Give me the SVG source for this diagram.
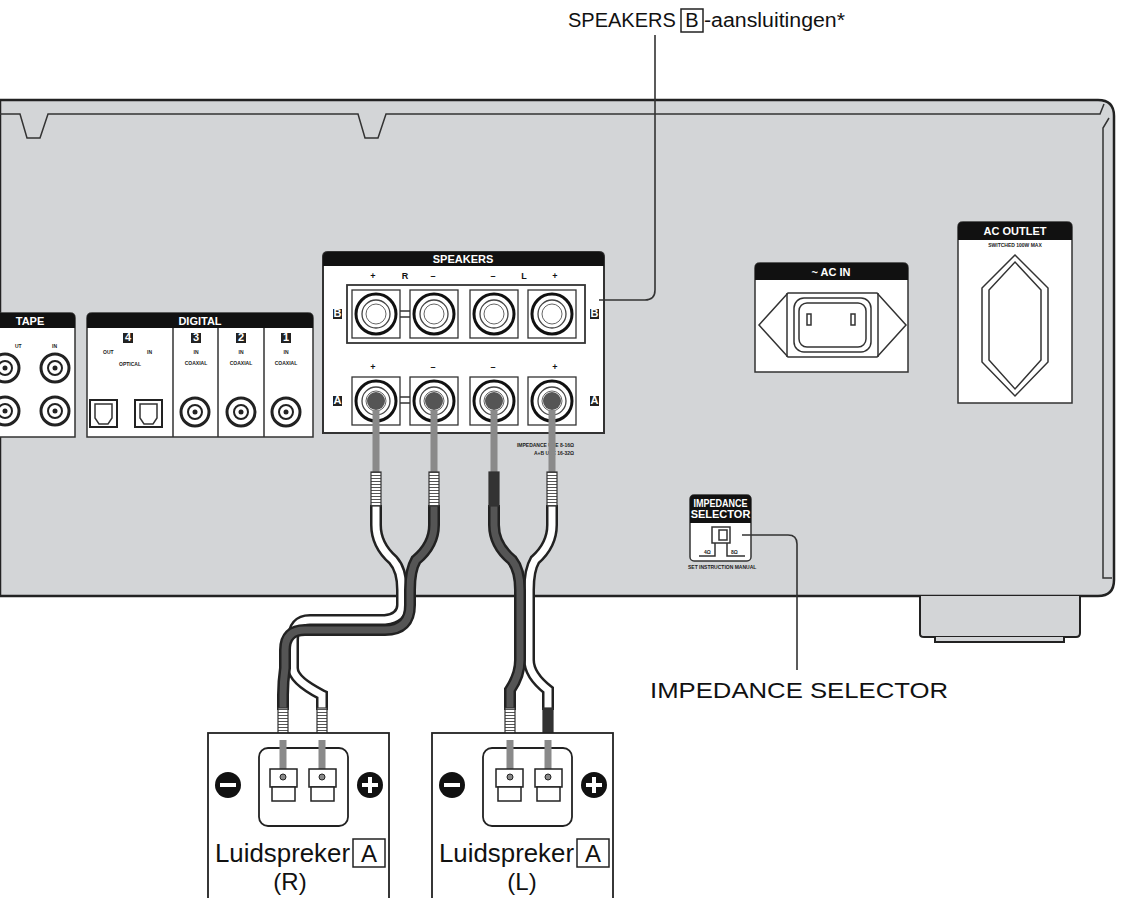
<svg xmlns="http://www.w3.org/2000/svg" width="1124" height="898" viewBox="0 0 1124 898">
<defs>
<style>
.t{font-family:"Liberation Sans",Arial,sans-serif;fill:#111}
.s{font-family:"Liberation Sans",Arial,sans-serif;font-weight:bold;fill:#fff;font-size:11px}
.k{font-family:"Liberation Sans",Arial,sans-serif;font-weight:bold;fill:#222;font-size:5px}
.pn{fill:#fff;stroke:#333;stroke-width:1.5}
.ln{fill:none;stroke:#333;stroke-width:1.5}
.lead{fill:none;stroke:#333;stroke-width:1.6}
</style>
<g id="post">
<rect x="-24" y="-24" width="48" height="48" fill="#fff" stroke="#333" stroke-width="1.3"/>
<circle r="20" fill="#fff" stroke="#111" stroke-width="3"/>
<circle r="14" fill="none" stroke="#444" stroke-width="1.3"/>
<circle r="10" fill="none" stroke="#666" stroke-width="1"/>
</g>
<g id="rca"><circle r="14" fill="#fff" stroke="#222" stroke-width="3"/><circle r="7" fill="none" stroke="#222" stroke-width="2"/><circle r="2.5" fill="#222"/></g>
<pattern id="hatch" width="4" height="3" patternUnits="userSpaceOnUse"><rect width="4" height="3" fill="#fff"/><line x1="0" y1="1.5" x2="4" y2="1.5" stroke="#555" stroke-width="1"/></pattern>
</defs>
<rect width="1124" height="898" fill="#fff"/>

<g id="chassis">
<path d="M0 100 H1098 Q1114 100 1114 116 V580 Q1114 596 1098 596 H0 Z" fill="#d3d5d7" stroke="#222" stroke-width="2.5"/>
<path d="M0 114 H20 L27 138 H40 L48 114 H358 L365 138 H378 L386 114 H1100 L1104 104" class="ln" stroke-width="1.2"/>
<path d="M1109 118 L1103 128 V578 H1112" class="ln" stroke-width="1.2"/>
<path d="M920 596 V634 Q920 637 924 637 H1076 Q1080 637 1080 633 V596" fill="#d3d5d7" stroke="#222" stroke-width="2"/>
<path d="M935 637 V642 H1064 V637" fill="#d3d5d7" stroke="#222" stroke-width="2"/>
</g>

<g id="tape">
<path d="M0 313 H70 Q75 313 75 318 V437 H0" class="pn"/>
<path d="M0 313 H70 Q75 313 75 318 V328 H0 Z" fill="#111"/>
<text x="30" y="325" class="s" text-anchor="middle">TAPE</text>
<text x="15" y="348" class="k">UT</text><text x="52" y="348" class="k">IN</text>
<use href="#rca" x="5" y="368"/><use href="#rca" x="55" y="368"/>
<use href="#rca" x="5" y="411"/><use href="#rca" x="55" y="411"/>
</g>

<g id="digital">
<path d="M87 437 V318 Q87 313 92 313 H308 Q313 313 313 318 V437 Z" class="pn"/>
<path d="M87 328 V318 Q87 313 92 313 H308 Q313 313 313 318 V328 Z" fill="#111"/>
<text x="200" y="325" class="s" text-anchor="middle">DIGITAL</text>
<path d="M173 328 V437 M218 328 V437 M264 328 V437" class="ln"/>
<rect x="123" y="333" width="10" height="10" fill="#222"/><text x="128" y="341" class="s" font-size="8" text-anchor="middle">4</text>
<rect x="191" y="333" width="10" height="10" fill="#222"/><text x="196" y="341" class="s" font-size="8" text-anchor="middle">3</text>
<rect x="236" y="333" width="10" height="10" fill="#222"/><text x="241" y="341" class="s" font-size="8" text-anchor="middle">2</text>
<rect x="281" y="333" width="10" height="10" fill="#222"/><text x="286" y="341" class="s" font-size="8" text-anchor="middle">1</text>
<text x="103" y="354" class="k">OUT</text><text x="147" y="354" class="k">IN</text>
<text x="130" y="366" class="k" text-anchor="middle">OPTICAL</text>
<text x="196" y="354" class="k" text-anchor="middle">IN</text><text x="196" y="365" class="k" text-anchor="middle">COAXIAL</text>
<text x="241" y="354" class="k" text-anchor="middle">IN</text><text x="241" y="365" class="k" text-anchor="middle">COAXIAL</text>
<text x="286" y="354" class="k" text-anchor="middle">IN</text><text x="286" y="365" class="k" text-anchor="middle">COAXIAL</text>
<rect x="90" y="400" width="27" height="27" fill="#fff" stroke="#222" stroke-width="2"/>
<path d="M95 404 H112 V418 L108 424 H99 L95 418 Z" class="ln"/>
<rect x="135" y="400" width="27" height="27" fill="#fff" stroke="#222" stroke-width="2"/>
<path d="M140 404 H157 V418 L153 424 H144 L140 418 Z" class="ln"/>
<use href="#rca" x="195" y="412"/><use href="#rca" x="241" y="412"/><use href="#rca" x="286" y="412"/>
</g>

<g id="speakers-panel">
<path d="M323 433 V257 Q323 252 328 252 H599 Q604 252 604 257 V433 Z" fill="#fff" stroke="#333" stroke-width="2"/>
<path d="M323 266 V257 Q323 252 328 252 H599 Q604 252 604 257 V266 Z" fill="#111"/>
<text x="463" y="263" class="s" text-anchor="middle">SPEAKERS</text>
<g class="t" font-size="9" font-weight="bold" text-anchor="middle">
<text x="373" y="279">+</text><text x="405" y="279">R</text><text x="433" y="279">–</text>
<text x="493" y="279">–</text><text x="524" y="279">L</text><text x="555" y="279">+</text>
<text x="373" y="370">+</text><text x="433" y="370">–</text><text x="493" y="370">–</text><text x="555" y="370">+</text>
</g>
<rect x="347" y="285" width="238" height="58" fill="none" stroke="#333" stroke-width="1.8"/>
<path d="M396 311 H412 M396 317 H412 M574 311 H530 M574 317 H530" class="ln" stroke-width="1"/>
<use href="#post" x="376" y="314"/><use href="#post" x="434" y="314"/><use href="#post" x="494" y="314"/><use href="#post" x="552" y="314"/>
<path d="M398 397 H412 M398 403 H412 M530 397 H574 M530 403 H574" class="ln" stroke-width="1"/>
<use href="#post" x="376" y="401"/><use href="#post" x="434" y="401"/><use href="#post" x="494" y="401"/><use href="#post" x="552" y="401"/>
<g fill="#555"><circle cx="376" cy="401" r="9"/><circle cx="434" cy="401" r="9"/><circle cx="494" cy="401" r="9"/><circle cx="552" cy="401" r="9"/></g>
<rect x="333" y="309" width="9" height="10" fill="#222"/><text x="337.5" y="317" class="s" font-size="7" text-anchor="middle">B</text>
<rect x="590" y="309" width="9" height="10" fill="#222"/><text x="594.5" y="317" class="s" font-size="7" text-anchor="middle">B</text>
<rect x="333" y="396" width="9" height="10" fill="#222"/><text x="337.5" y="404" class="s" font-size="7" text-anchor="middle">A</text>
<rect x="590" y="396" width="9" height="10" fill="#222"/><text x="594.5" y="404" class="s" font-size="7" text-anchor="middle">A</text>
</g>
<text x="574" y="447" class="k" text-anchor="end">IMPEDANCE USE 8-16Ω</text>
<text x="574" y="455" class="k" text-anchor="end">A+B USE 16-32Ω</text>

<g id="ac-in">
<path d="M755 372 V268 Q755 263 760 263 H903 Q908 263 908 268 V372 Z" class="pn"/>
<path d="M755 280 V268 Q755 263 760 263 H903 Q908 263 908 268 V280 Z" fill="#111"/>
<text x="831" y="276" class="s" text-anchor="middle">~ AC IN</text>
<path d="M788 293 H877 L906 325 L877 357 H788 L759 325 Z" class="ln"/>
<path d="M787 293 V357 M878 293 V357" class="ln"/>
<rect x="794" y="298" width="77" height="54" rx="10" class="ln" stroke-width="2"/>
<rect x="799" y="303" width="67" height="44" rx="8" class="ln"/>
<rect x="807" y="314" width="4" height="11" class="ln"/><rect x="851" y="314" width="4" height="11" class="ln"/>
</g>

<g id="ac-outlet">
<path d="M958 403 V227 Q958 222 963 222 H1067 Q1072 222 1072 227 V403 Z" class="pn"/>
<path d="M958 240 V227 Q958 222 963 222 H1067 Q1072 222 1072 227 V240 Z" fill="#111"/>
<text x="1015" y="235" class="s" text-anchor="middle">AC OUTLET</text>
<text x="1015" y="247" class="k" text-anchor="middle">SWITCHED 100W MAX</text>
<path d="M1015 255 L1048 288 V362 L1015 396 L982 362 V288 Z" class="ln" stroke-width="2"/>
<path d="M1015 262 L1041 290 V360 L1015 389 L989 360 V290 Z" class="ln" stroke-width="1.5"/>
</g>

<g id="impedance-selector">
<rect x="690" y="495" width="61" height="66" rx="4" class="pn"/>
<path d="M690 523 V499 Q690 495 694 495 H747 Q751 495 751 499 V523 Z" fill="#111"/>
<text x="720.5" y="507" class="s" font-size="7" text-anchor="middle" textLength="54" lengthAdjust="spacingAndGlyphs">IMPEDANCE</text>
<text x="720.5" y="518" class="s" font-size="7" text-anchor="middle">SELECTOR</text>
<rect x="712" y="527" width="18" height="16" class="ln"/><rect x="719" y="530" width="8" height="10" class="ln" stroke-width="1"/>
<path d="M699 556 H715 V543 M727 543 V556 H745" class="ln" stroke-width="1"/>
<text x="704" y="554" class="k" font-size="6">4Ω</text><text x="731" y="554" class="k" font-size="6">8Ω</text>
<text x="688" y="569" class="k" font-size="4.5">SET INSTRUCTION MANUAL</text>
</g>

<g id="connectors">
<path d="M655 35 V290 Q655 300 645 300 H599" class="lead"/>
<path d="M742 535 H788 Q797 535 797 544 V670" class="lead"/>
<g stroke-linecap="butt" fill="none">
<g stroke="#8a8a8a" stroke-width="7"><path d="M376 410 V472 M434 410 V472 M494 410 V472 M552 410 V472"/></g>
<path d="M376 505 V525 Q376 545 393 560 Q402 570 402 590 V605 Q402 618 385 620 H310 Q293 620 293 640 V668 Q293 680 322 695 V710" stroke="#222" stroke-width="12"/>
<path d="M376 505 V525 Q376 545 393 560 Q402 570 402 590 V605 Q402 618 385 620 H310 Q293 620 293 640 V668 Q293 680 322 695 V710" stroke="#fff" stroke-width="7"/>
<path d="M434 505 V525 Q434 545 416 560 Q410 570 410 590 V605 Q410 630 385 630 H305 Q285 630 285 650 V668 Q283 682 283 695 V710" stroke="#222" stroke-width="12"/>
<path d="M434 505 V525 Q434 545 416 560 Q410 570 410 590 V605 Q410 630 385 630 H305 Q285 630 285 650 V668 Q283 682 283 695 V710" stroke="#555" stroke-width="7"/>
<path d="M552 505 V525 Q552 545 535 560 Q529 570 529 590 V660 Q529 675 548 690 V710" stroke="#222" stroke-width="12"/>
<path d="M552 505 V525 Q552 545 535 560 Q529 570 529 590 V660 Q529 675 548 690 V710" stroke="#fff" stroke-width="7"/>
<path d="M494 505 V525 Q494 545 512 560 Q520 570 520 590 V660 Q520 675 510 690 V710" stroke="#222" stroke-width="12"/>
<path d="M494 505 V525 Q494 545 512 560 Q520 570 520 590 V660 Q520 675 510 690 V710" stroke="#555" stroke-width="7"/>
</g>
<g stroke="#333" stroke-width="1.2">
<rect x="371" y="472" width="10" height="34" fill="url(#hatch)"/><rect x="429" y="472" width="10" height="34" fill="url(#hatch)"/>
<rect x="489" y="472" width="10" height="34" fill="#333"/><rect x="547" y="472" width="10" height="34" fill="url(#hatch)"/>
<rect x="278" y="708" width="10" height="32" fill="url(#hatch)"/><rect x="317" y="708" width="10" height="32" fill="url(#hatch)"/>
<rect x="505" y="708" width="10" height="32" fill="url(#hatch)"/><rect x="543" y="708" width="10" height="32" fill="#333"/>
</g>
</g>

<g id="speaker-R">
<rect x="208" y="733" width="181" height="175" fill="#fff" stroke="#222" stroke-width="1.8"/>
<rect x="259" y="748" width="89" height="78" rx="9" fill="#fff" stroke="#222" stroke-width="1.8"/>
<path d="M283 740 V770 M322 740 V770" stroke="#8a8a8a" stroke-width="7"/>
<g fill="#fff" stroke="#222" stroke-width="1.5"><rect x="270" y="769" width="27" height="18"/><rect x="309" y="769" width="27" height="18"/><rect x="272" y="787" width="23" height="14"/><rect x="311" y="787" width="23" height="14"/></g>
<circle cx="283" cy="777" r="3" fill="#888" stroke="#222"/><circle cx="322" cy="777" r="3" fill="#888" stroke="#222"/>
<circle cx="228" cy="785" r="13" fill="#111"/><rect x="220" y="783" width="16" height="4" fill="#fff"/>
<circle cx="370" cy="785" r="13" fill="#111"/><rect x="362" y="783" width="16" height="4" fill="#fff"/><rect x="368" y="777" width="4" height="16" fill="#fff"/>
<text x="215" y="862" class="t" font-size="25" textLength="135" lengthAdjust="spacingAndGlyphs">Luidspreker</text>
<rect x="353" y="839" width="32" height="28" fill="none" stroke="#222" stroke-width="1.5"/>
<text x="369" y="862" class="t" font-size="24" text-anchor="middle">A</text>
<text x="290" y="890" class="t" font-size="24" text-anchor="middle">(R)</text>
</g>

<g id="speaker-L">
<rect x="432" y="733" width="181" height="175" fill="#fff" stroke="#222" stroke-width="1.8"/>
<rect x="483" y="748" width="89" height="78" rx="9" fill="#fff" stroke="#222" stroke-width="1.8"/>
<path d="M510 740 V770 M548 740 V770" stroke="#8a8a8a" stroke-width="7"/>
<g fill="#fff" stroke="#222" stroke-width="1.5"><rect x="496" y="769" width="27" height="18"/><rect x="535" y="769" width="27" height="18"/><rect x="498" y="787" width="23" height="14"/><rect x="537" y="787" width="23" height="14"/></g>
<circle cx="510" cy="777" r="3" fill="#888" stroke="#222"/><circle cx="548" cy="777" r="3" fill="#888" stroke="#222"/>
<circle cx="452" cy="785" r="13" fill="#111"/><rect x="444" y="783" width="16" height="4" fill="#fff"/>
<circle cx="594" cy="785" r="13" fill="#111"/><rect x="586" y="783" width="16" height="4" fill="#fff"/><rect x="592" y="777" width="4" height="16" fill="#fff"/>
<text x="439" y="862" class="t" font-size="25" textLength="135" lengthAdjust="spacingAndGlyphs">Luidspreker</text>
<rect x="577" y="839" width="32" height="28" fill="none" stroke="#222" stroke-width="1.5"/>
<text x="593" y="862" class="t" font-size="24" text-anchor="middle">A</text>
<text x="522" y="890" class="t" font-size="24" text-anchor="middle">(L)</text>
</g>

<g id="label-B">
<text x="568" y="27" class="t" font-size="20">SPEAKERS</text>
<rect x="681" y="9" width="22" height="23" fill="none" stroke="#222" stroke-width="1.5"/>
<text x="692" y="27" class="t" font-size="20" text-anchor="middle">B</text>
<text x="704" y="27" class="t" font-size="20" textLength="141" lengthAdjust="spacingAndGlyphs">-aansluitingen*</text>
</g>
<g id="label-imp"><text x="650" y="698" class="t" font-size="22" textLength="298" lengthAdjust="spacingAndGlyphs">IMPEDANCE SELECTOR</text></g>
</svg>
